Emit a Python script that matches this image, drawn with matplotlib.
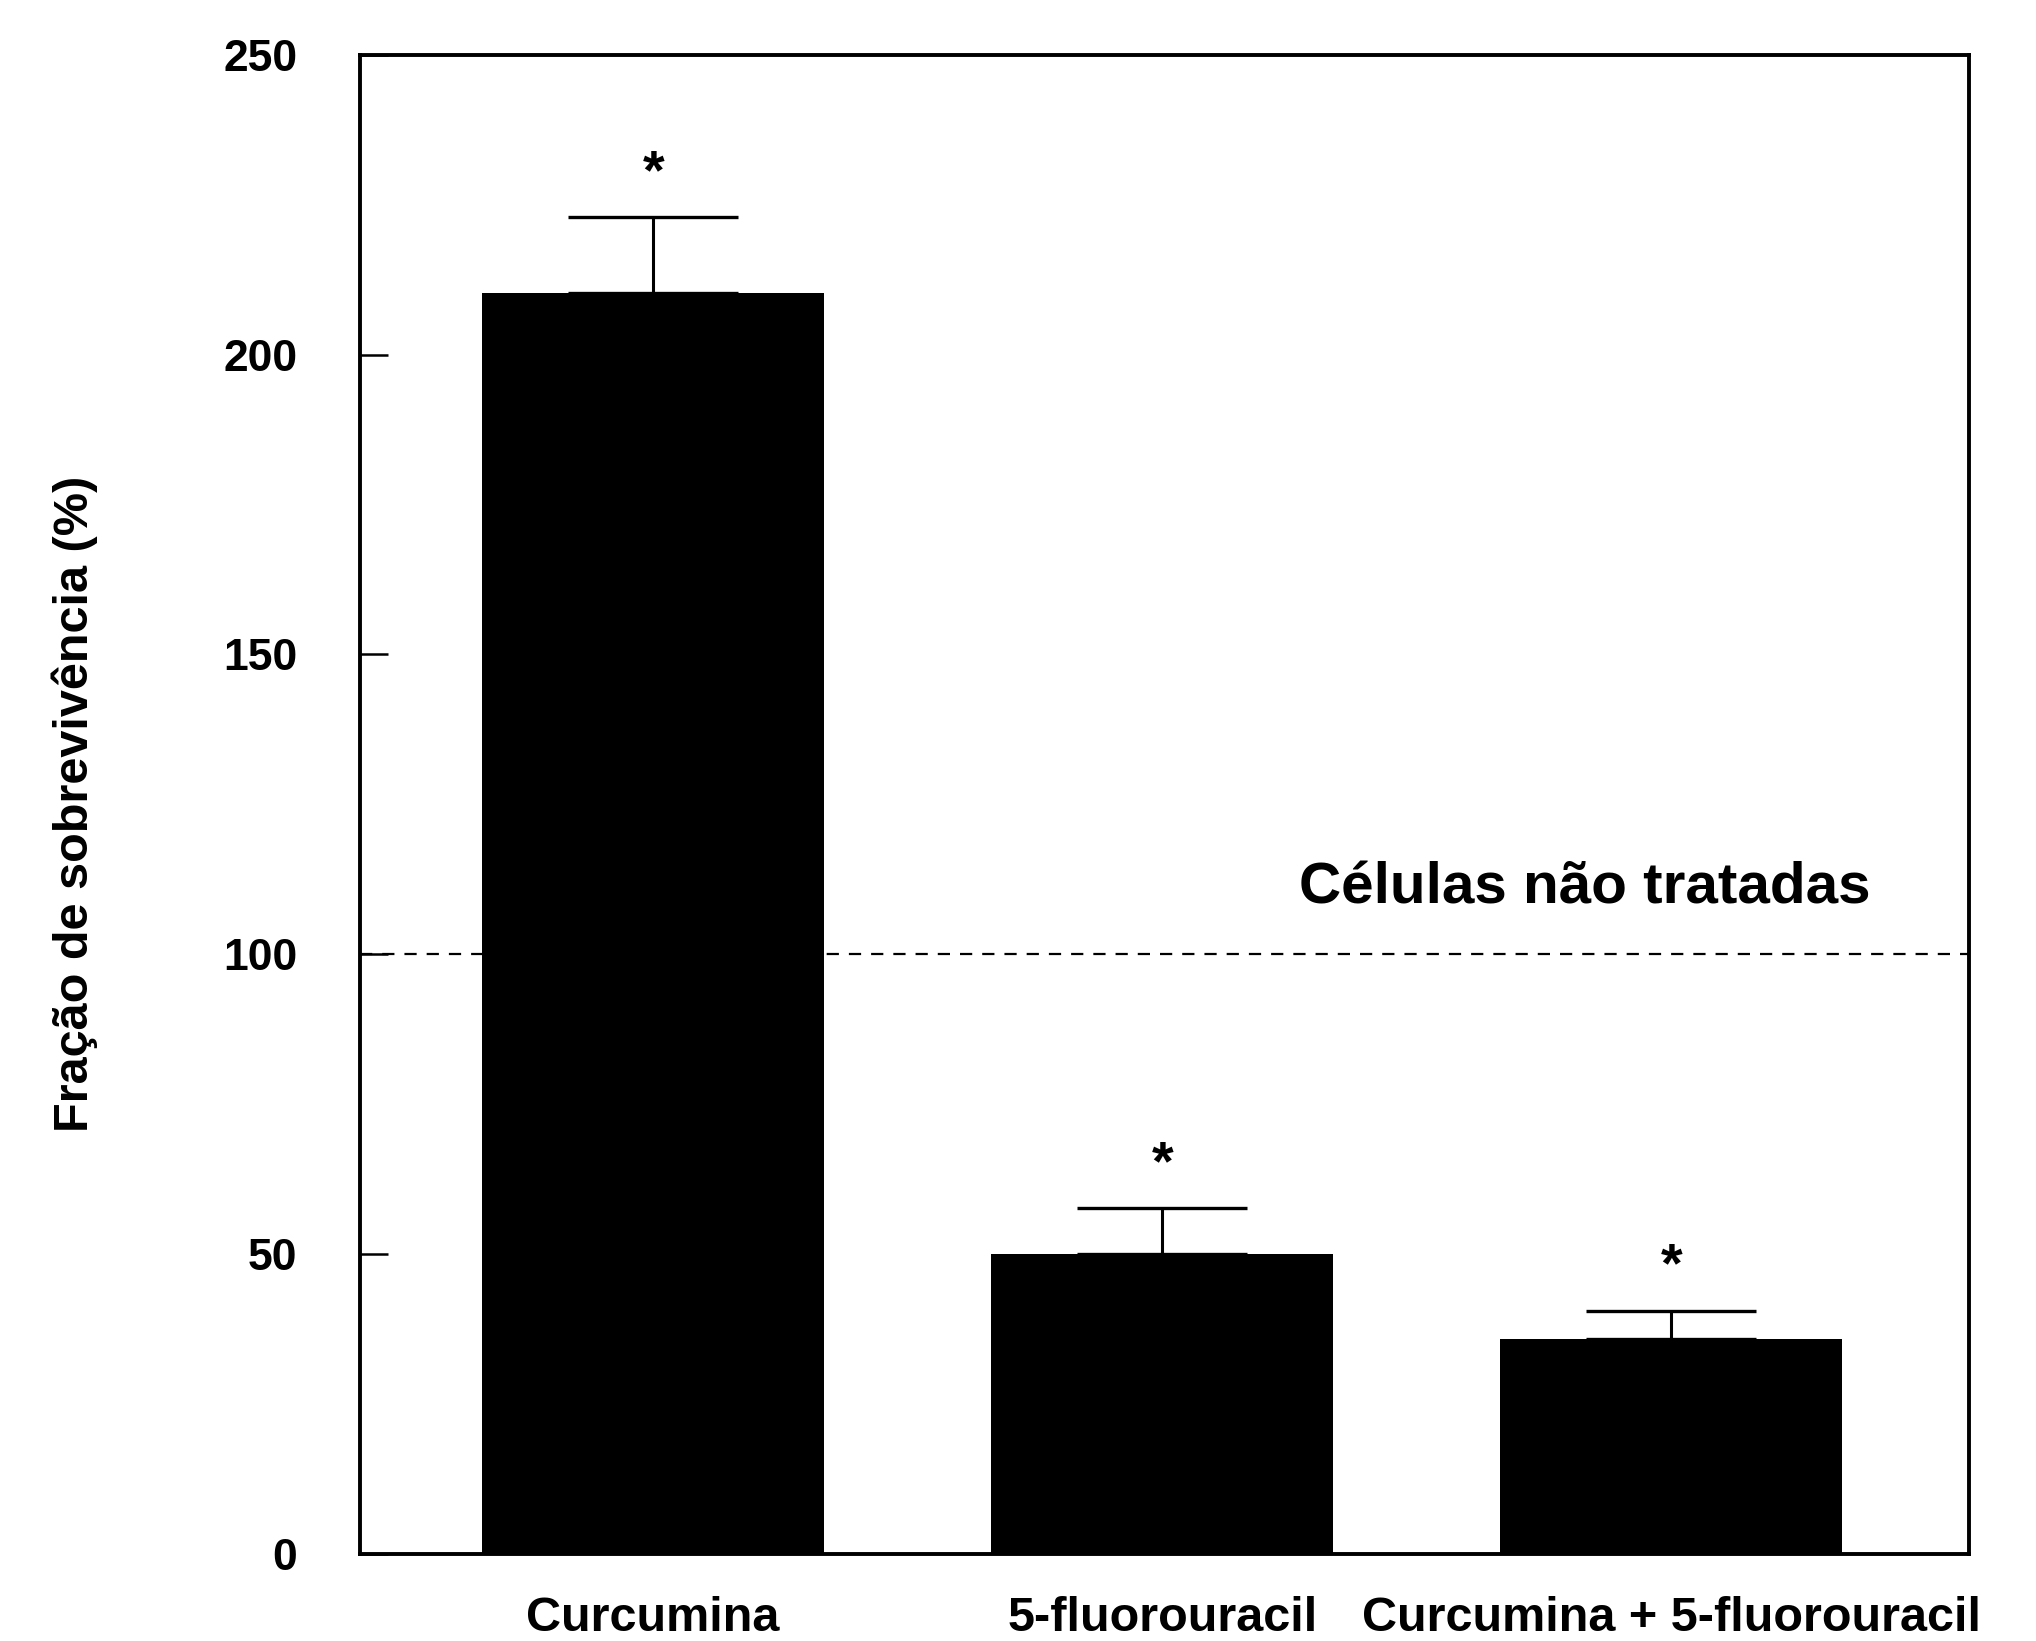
import matplotlib
matplotlib.use("Agg")
import matplotlib.pyplot as plt
import numpy as np

# data
categories = ["Curcumina", "5-fluorouracil", "Curcumina + 5-fluorouracil"]
survival = [210.3, 50.0, 35.9]
err_upper = [12.6, 7.7, 4.7]
control_level = 100
control_label = "Células não tratadas"
yticks = [0, 50, 100, 150, 200, 250]

plt.rcParams['font.family'] = ['Liberation Sans', 'DejaVu Sans']
plt.rcParams['font.weight'] = 'bold'

fig = plt.figure(figsize=(20.36, 16.41), dpi=100)
ax = fig.add_axes([0.1768, 0.053, 0.7903, 0.9137])

x = np.arange(len(categories))
ax.bar(x, survival, width=0.672, color='black', edgecolor='none', zorder=2)
ax.errorbar(x, survival, yerr=[np.zeros(len(x)), err_upper], fmt='none',
            ecolor='black', elinewidth=2.2, capsize=61, capthick=2.4, zorder=1)

# significance stars
for xi, yi, ei in zip(x, survival, err_upper):
    ax.text(xi, yi + ei + 7.2, "*", ha='center', va='center', fontsize=40,
            fontweight='bold')

ax.axhline(control_level, color='black', lw=1.6, linestyle=(0, (5.5, 4.5)), zorder=3)
ax.text(1.83, 111, control_label, ha='center', va='center', fontsize=42,
        fontweight='bold')

ax.set_xlim(-0.576, 2.585)
ax.set_ylim(0, 250)
ax.set_yticks(yticks)
ax.set_yticklabels([str(v) for v in yticks])
ax.set_xticks(x)
ax.set_xticklabels(categories)

ax.tick_params(axis='y', direction='in', length=20, width=1.8, pad=45, labelsize=32)
ax.tick_params(axis='x', length=0, pad=30, labelsize=35)
for lab in ax.get_xticklabels() + ax.get_yticklabels():
    lab.set_fontweight('bold')

for sp in ax.spines.values():
    sp.set_linewidth(2.8)

ax.set_ylabel("Fração de sobrevivência (%)", fontsize=35, fontweight='bold')
ax.yaxis.set_label_coords(-0.163, 0.5)

fig.savefig("out.png", dpi=100)
